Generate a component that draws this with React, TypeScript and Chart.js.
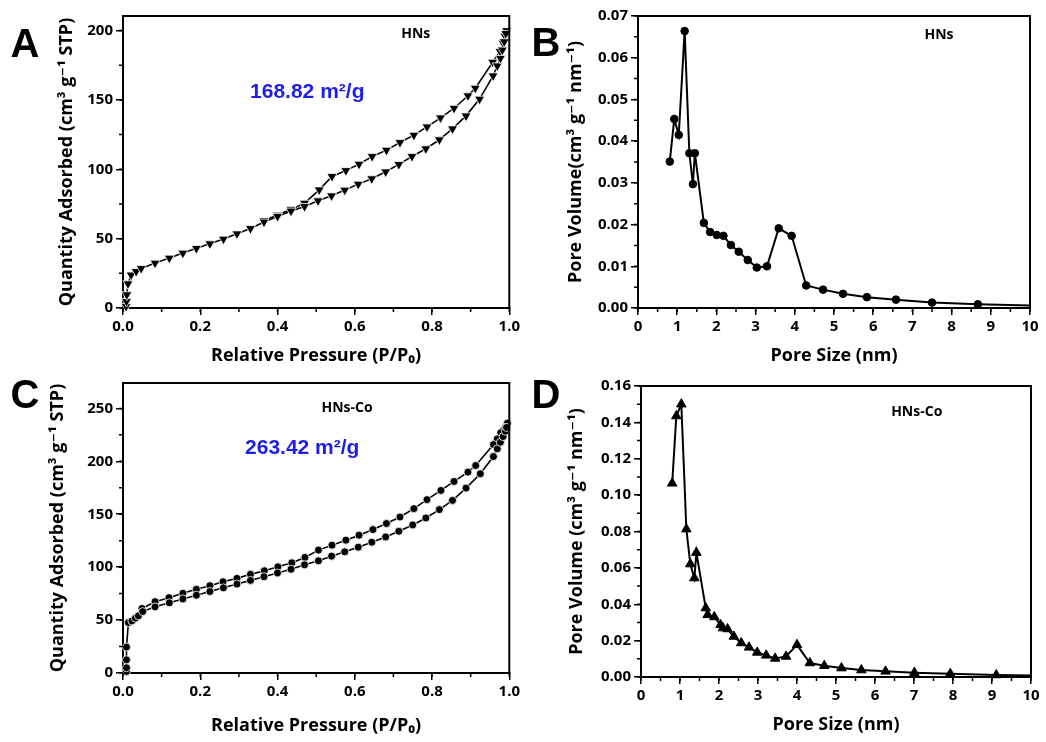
import React, { useEffect, useRef } from 'react';
import { Chart, registerables } from 'chart.js';

Chart.register(...registerables);

// ---------- Panel A: HNs N2 isotherm ----------
const hnsAdsP = [0.008, 0.009, 0.010, 0.013, 0.021, 0.034, 0.047, 0.083, 0.12, 0.155, 0.19, 0.225, 0.26, 0.295, 0.33, 0.365, 0.40, 0.435, 0.47, 0.505, 0.54, 0.574, 0.609, 0.644, 0.68, 0.714, 0.748, 0.784, 0.819, 0.853, 0.888, 0.923, 0.958, 0.969, 0.977, 0.982, 0.987, 0.991];
const hnsAdsQ = [1.2, 4.8, 9.6, 17.5, 23.8, 26.4, 28.5, 32.4, 36.0, 39.6, 43.0, 46.3, 49.7, 53.5, 57.3, 62.0, 66.0, 69.9, 73.2, 77.3, 80.9, 85.0, 89.3, 93.2, 98.2, 103.5, 109.2, 114.8, 121.3, 129.2, 138.5, 150.6, 167.4, 174.6, 180.0, 186.0, 192.0, 198.0];
const hnsDesP = [0.993, 0.989, 0.984, 0.976, 0.957, 0.912, 0.893, 0.857, 0.822, 0.787, 0.753, 0.717, 0.682, 0.645, 0.611, 0.577, 0.541, 0.508, 0.47, 0.435, 0.40, 0.365];
const hnsDesQ = [200.0, 196.0, 191.0, 185.0, 177.2, 158.5, 153.0, 144.0, 137.1, 130.6, 124.6, 119.3, 113.8, 109.2, 103.7, 99.1, 94.8, 85.2, 75.6, 71.0, 67.0, 63.0];

// ---------- Panel B: HNs pore size distribution ----------
const hnsPoreSize = [0.81, 0.925, 1.04, 1.19, 1.31, 1.40, 1.45, 1.68, 1.84, 2.01, 2.18, 2.37, 2.57, 2.80, 3.03, 3.29, 3.59, 3.92, 4.29, 4.72, 5.23, 5.84, 6.58, 7.50, 8.67, 10.0];
const hnsPoreVol = [0.0351, 0.0453, 0.0415, 0.0664, 0.0371, 0.0297, 0.0371, 0.0204, 0.0182, 0.0175, 0.0173, 0.0151, 0.0135, 0.0115, 0.0097, 0.0100, 0.0191, 0.0173, 0.0054, 0.0044, 0.0034, 0.0026, 0.0020, 0.0013, 0.0009, 0.0006];

// ---------- Panel C: HNs-Co N2 isotherm ----------
const coAdsP = [0.009, 0.009, 0.009, 0.009, 0.014, 0.023, 0.032, 0.040, 0.051, 0.083, 0.12, 0.155, 0.19, 0.225, 0.26, 0.295, 0.33, 0.365, 0.40, 0.435, 0.47, 0.506, 0.54, 0.574, 0.609, 0.644, 0.68, 0.714, 0.75, 0.784, 0.819, 0.853, 0.888, 0.925, 0.959, 0.969, 0.977, 0.984, 0.99, 0.993];
const coAdsQ = [1.5, 5.0, 12.5, 24.5, 47.6, 49.2, 51.8, 54.0, 58.0, 62.5, 66.3, 70.0, 73.5, 77.0, 80.5, 84.0, 87.5, 91.0, 94.5, 98.0, 102.2, 106.0, 110.4, 114.5, 118.9, 123.6, 128.6, 133.9, 139.9, 146.5, 154.4, 163.1, 174.7, 188.3, 204.5, 211.8, 218.0, 223.4, 228.4, 232.0];
const coDesP = [0.995, 0.99, 0.984, 0.978, 0.969, 0.959, 0.913, 0.893, 0.857, 0.823, 0.787, 0.753, 0.717, 0.682, 0.647, 0.611, 0.577, 0.541, 0.506, 0.471, 0.437, 0.401, 0.366, 0.33, 0.295, 0.259, 0.225, 0.19, 0.155, 0.119, 0.083, 0.049];
const coDesQ = [236.0, 232.0, 229.0, 226.8, 221.2, 215.8, 196.0, 189.8, 181.0, 172.5, 163.8, 155.3, 147.4, 141.2, 135.5, 130.2, 125.5, 120.8, 116.1, 109.2, 104.1, 100.3, 96.6, 93.2, 89.4, 86.2, 82.5, 79.1, 75.3, 71.2, 67.4, 61.0];

// ---------- Panel D: HNs-Co pore size distribution ----------
const coPoreSize = [0.80, 0.906, 1.034, 1.163, 1.265, 1.368, 1.42, 1.66, 1.71, 1.88, 2.04, 2.10, 2.22, 2.38, 2.57, 2.77, 2.98, 3.21, 3.44, 3.72, 4.00, 4.33, 4.70, 5.14, 5.65, 6.27, 7.01, 7.93, 9.11, 10.0];
const coPoreVol = [0.1065, 0.1435, 0.150, 0.0813, 0.0621, 0.0544, 0.0684, 0.0379, 0.0342, 0.0330, 0.0287, 0.0269, 0.0264, 0.0223, 0.0187, 0.0163, 0.0135, 0.0119, 0.0102, 0.0113, 0.0177, 0.0077, 0.0062, 0.0049, 0.0038, 0.0031, 0.0024, 0.0018, 0.0011, 0.0008];

// ---------- Text ----------
const isoXTitle = 'Relative Pressure (P/P\u2080)';
const isoYTitle = 'Quantity Adsorbed (cm\u00b3 g\u207b\u00b9 STP)';
const psdXTitle = 'Pore Size (nm)';
const psdYTitleB = 'Pore Volume(cm\u00b3 g\u207b\u00b9 nm\u207b\u00b9)';
const psdYTitleD = 'Pore Volume (cm\u00b3 g\u207b\u00b9 nm\u207b\u00b9)';
const areaA = '168.82 m\u00b2/g';
const areaC = '263.42 m\u00b2/g';

const FONT = "'Open Sans', 'DejaVu Sans', sans-serif";

type PanelCfg = {
  left: number; top: number; w: number; h: number;
  padTop: number; padRight: number; yW: number; xH: number;
  yTitlePad: number; xTitlePad: number;
  xMin: number; xMax: number; xStep: number; xMinor: number; xDec: number;
  yMin: number; yMax: number; yStep: number; yMinor: number; yDec: number;
  xTitle: string; yTitle: string;
  letter: string; letterX: number; letterY: number;
  label: string; labelX: number; labelY: number;
  area?: string; areaX?: number; areaY?: number;
  datasets: any[];
};

function pts(xs: number[], ys: number[]) {
  return xs.map((x, i) => ({ x, y: ys[i] }));
}

function makePlugin(cfg: PanelCfg) {
  return {
    id: 'frameAndText',
    afterDraw(chart: any) {
      const { ctx, chartArea: a, scales } = chart;
      const xs = scales.x, ys = scales.y;
      ctx.save();
      ctx.strokeStyle = '#000';
      ctx.lineWidth = 2;
      ctx.beginPath();
      ctx.moveTo(a.left - 1, a.top);
      ctx.lineTo(a.right, a.top);
      ctx.lineTo(a.right, a.bottom + 1);
      ctx.stroke();
      // minor ticks
      ctx.lineWidth = 1.5;
      ctx.beginPath();
      const nx = Math.round((cfg.xMax - cfg.xMin) / cfg.xMinor);
      for (let i = 0; i <= nx; i++) {
        const px = xs.getPixelForValue(cfg.xMin + i * cfg.xMinor);
        ctx.moveTo(px, a.bottom);
        ctx.lineTo(px, a.bottom + 4);
      }
      const ny = Math.floor((cfg.yMax - cfg.yMin) / cfg.yMinor + 1e-6);
      for (let i = 0; i <= ny; i++) {
        const py = ys.getPixelForValue(cfg.yMin + i * cfg.yMinor);
        ctx.moveTo(a.left, py);
        ctx.lineTo(a.left - 4, py);
      }
      ctx.stroke();
      // panel letter
      ctx.fillStyle = '#000';
      ctx.textAlign = 'center';
      ctx.textBaseline = 'middle';
      ctx.font = "bold 40px 'Liberation Sans', Arial, sans-serif";
      ctx.fillText(cfg.letter, cfg.letterX, cfg.letterY);
      // sample label
      ctx.font = `bold 14px ${FONT}`;
      ctx.fillText(cfg.label, xs.getPixelForValue(cfg.labelX), ys.getPixelForValue(cfg.labelY));
      if (cfg.area) {
        ctx.fillStyle = '#1e1ee8';
        ctx.font = "bold 21px 'Liberation Sans', Arial, sans-serif";
        ctx.fillText(cfg.area, xs.getPixelForValue(cfg.areaX), ys.getPixelForValue(cfg.areaY));
      }
      ctx.restore();
    },
  };
}

function Panel({ cfg }: { cfg: PanelCfg }) {
  const ref = useRef<HTMLCanvasElement | null>(null);
  useEffect(() => {
    if (!ref.current) return;
    const tickFont = { family: FONT, size: 15, weight: 'bold' as const };
    const titleFont = { family: FONT, size: 18, weight: 'bold' as const };
    const chart = new Chart(ref.current, {
      type: 'line',
      data: { datasets: cfg.datasets },
      options: {
        animation: false,
        responsive: false,
        maintainAspectRatio: false,
        events: [],
        layout: { padding: { left: 0, top: cfg.padTop, right: cfg.padRight, bottom: 0 } },
        plugins: { legend: { display: false }, tooltip: { enabled: false } },
        scales: {
          x: {
            type: 'linear',
            min: cfg.xMin,
            max: cfg.xMax,
            afterFit: (s: any) => { s.height = cfg.xH; },
            ticks: {
              stepSize: cfg.xStep,
              includeBounds: false,
              autoSkip: false,
              maxRotation: 0,
              padding: 3,
              color: '#000',
              font: tickFont,
              callback: (v: any) => Number(v).toFixed(cfg.xDec),
            },
            grid: { display: true, drawOnChartArea: false, drawTicks: true, tickLength: 7, color: '#000', lineWidth: 1.5 },
            border: { display: true, color: '#000', width: 2 },
            title: { display: true, text: cfg.xTitle, color: '#000', font: titleFont, padding: { top: 0, bottom: cfg.xTitlePad } },
          },
          y: {
            type: 'linear',
            min: cfg.yMin,
            max: cfg.yMax,
            afterFit: (s: any) => { s.width = cfg.yW; },
            ticks: {
              stepSize: cfg.yStep,
              includeBounds: false,
              autoSkip: false,
              padding: 3,
              color: '#000',
              font: tickFont,
              callback: (v: any) => Number(v).toFixed(cfg.yDec),
            },
            grid: { display: true, drawOnChartArea: false, drawTicks: true, tickLength: 7, color: '#000', lineWidth: 1.5 },
            border: { display: true, color: '#000', width: 2 },
            title: { display: true, text: cfg.yTitle, color: '#000', font: titleFont, padding: { top: cfg.yTitlePad, bottom: 0 } },
          },
        },
      } as any,
      plugins: [makePlugin(cfg)],
    });
    return () => chart.destroy();
  }, [cfg]);
  return (
    <canvas
      ref={ref}
      width={cfg.w}
      height={cfg.h}
      style={{ position: 'absolute', left: cfg.left, top: cfg.top, width: cfg.w, height: cfg.h }}
    />
  );
}

function isoDataset(xs: number[], ys: number[], style: string, rot: number, r: number) {
  return {
    data: pts(xs, ys),
    borderColor: '#000',
    borderWidth: 1.6,
    pointStyle: style,
    rotation: rot,
    pointRadius: r,
    pointBackgroundColor: '#000',
    pointBorderColor: '#fff',
    pointBorderWidth: 0.8,
    clip: false,
    tension: 0,
  };
}

function psdDataset(xs: number[], ys: number[], style: string, r: number) {
  const last = xs.length - 1;
  return {
    data: pts(xs, ys),
    borderColor: '#000',
    borderWidth: 2,
    pointStyle: style,
    pointRadius: (c: any) => (c.dataIndex === last ? 0 : r),
    pointBackgroundColor: '#000',
    pointBorderColor: '#000',
    pointBorderWidth: 1,
    clip: false,
    tension: 0,
  };
}

const panelA: PanelCfg = {
  left: 0, top: 0, w: 523, h: 371,
  padTop: 16, padRight: 12, yW: 123, xH: 63,
  yTitlePad: 56, xTitlePad: 4,
  xMin: 0, xMax: 1, xStep: 0.2, xMinor: 0.1, xDec: 1,
  yMin: 0, yMax: 210.5, yStep: 50, yMinor: 25, yDec: 0,
  xTitle: isoXTitle, yTitle: isoYTitle,
  letter: 'A', letterX: 25, letterY: 46,
  label: 'HNs', labelX: 0.758, labelY: 197.6,
  area: areaA, areaX: 0.477, areaY: 155.9,
  datasets: [
    isoDataset(hnsAdsP, hnsAdsQ, 'triangle', 180, 5.8),
    isoDataset(hnsDesP, hnsDesQ, 'triangle', 180, 5.8),
  ],
};

const panelB: PanelCfg = {
  left: 523, top: 0, w: 523, h: 371,
  padTop: 16, padRight: 16, yW: 115, xH: 63,
  yTitlePad: 42, xTitlePad: 4,
  xMin: 0, xMax: 10, xStep: 1, xMinor: 0.5, xDec: 0,
  yMin: 0, yMax: 0.07, yStep: 0.01, yMinor: 0.005, yDec: 2,
  xTitle: psdXTitle, yTitle: psdYTitleB,
  letter: 'B', letterX: 23, letterY: 45,
  label: 'HNs', labelX: 7.68, labelY: 0.0654,
  datasets: [psdDataset(hnsPoreSize, hnsPoreVol, 'circle', 3.8)],
};

const panelC: PanelCfg = {
  left: 0, top: 371, w: 523, h: 371,
  padTop: 11, padRight: 12, yW: 123, xH: 69,
  yTitlePad: 47, xTitlePad: 5,
  xMin: 0, xMax: 1, xStep: 0.2, xMinor: 0.1, xDec: 1,
  yMin: 0, yMax: 274, yStep: 50, yMinor: 25, yDec: 0,
  xTitle: isoXTitle, yTitle: isoYTitle,
  letter: 'C', letterX: 25, letterY: 26,
  label: 'HNs-Co', labelX: 0.58, labelY: 250,
  area: areaC, areaX: 0.464, areaY: 212,
  datasets: [
    isoDataset(coAdsP, coAdsQ, 'circle', 0, 4),
    isoDataset(coDesP, coDesQ, 'circle', 0, 4),
  ],
};

const panelD: PanelCfg = {
  left: 523, top: 371, w: 523, h: 371,
  padTop: 15, padRight: 15, yW: 118, xH: 65,
  yTitlePad: 43, xTitlePad: 6,
  xMin: 0, xMax: 10, xStep: 1, xMinor: 0.5, xDec: 0,
  yMin: 0, yMax: 0.16, yStep: 0.02, yMinor: 0.01, yDec: 2,
  xTitle: psdXTitle, yTitle: psdYTitleD,
  letter: 'D', letterX: 23, letterY: 26,
  label: 'HNs-Co', labelX: 7.07, labelY: 0.1457,
  datasets: [psdDataset(coPoreSize, coPoreVol, 'triangle', 5.5)],
};

export default function App() {
  return (
    <div style={{ position: 'absolute', left: 0, top: 0, width: 1046, height: 742, background: '#fff', overflow: 'hidden' }}>
      <Panel cfg={panelA} />
      <Panel cfg={panelB} />
      <Panel cfg={panelC} />
      <Panel cfg={panelD} />
    </div>
  );
}
